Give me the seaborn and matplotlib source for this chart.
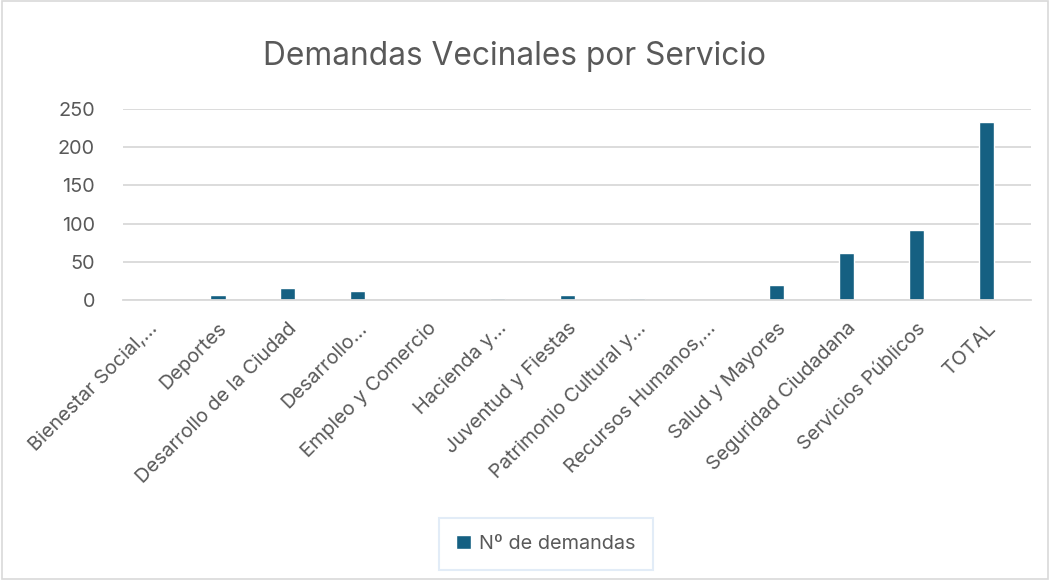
import pandas as pd
import matplotlib.pyplot as plt
import seaborn as sns
from matplotlib.patches import Rectangle

# datos
servicios = ["Bienestar Social,...", "Deportes", "Desarrollo de la Ciudad", "Desarrollo...",
             "Empleo y Comercio", "Hacienda y...", "Juventud y Fiestas", "Patrimonio Cultural y...",
             "Recursos Humanos,...", "Salud y Mayores", "Seguridad Ciudadana",
             "Servicios Públicos", "TOTAL"]
demandas = [0, 6, 16, 11, 0, 3, 6, 3, 0, 20, 62, 92, 233]
serie = "Nº de demandas"

df = pd.DataFrame({"Servicio": servicios, "Demandas": demandas})

sns.set_style("white")
plt.rcParams['font.family'] = ['Inter', 'DejaVu Sans']

gris = "#595959"
azul = "#156082"

fig = plt.figure(figsize=(10.5, 5.8), dpi=100)
ax = fig.add_axes([0.117, 0.483, 0.865, 0.329])

sns.barplot(data=df, x="Servicio", y="Demandas", color=azul, width=0.22,
            label=serie, ax=ax, saturation=1)

ax.set_ylim(0, 250)
ax.set_yticks([0, 50, 100, 150, 200, 250])
ax.set_xlim(-0.36, len(servicios) - 0.36)
ax.yaxis.grid(True, color="#d9d9d9", linewidth=1.3)
ax.set_axisbelow(True)
for s in ["top", "right", "left"]:
    ax.spines[s].set_visible(False)
ax.spines["bottom"].set_color("#d9d9d9")
ax.spines["bottom"].set_linewidth(1.3)
ax.set_xlabel("")
ax.set_ylabel("")
ax.tick_params(axis="y", colors=gris, labelsize=14.3, length=0, pad=20)
ax.tick_params(axis="x", colors=gris, labelsize=14.3, length=0, pad=14)
plt.setp(ax.get_xticklabels(), rotation=45, ha="right", rotation_mode="anchor")

fig.text(0.49, 0.888, "Demandas Vecinales por Servicio", ha="center", va="baseline",
         fontsize=22.8, color=gris)

leg = ax.legend(loc="center", bbox_to_anchor=(0.52, 0.062), bbox_transform=fig.transFigure,
                frameon=True, fontsize=14.3, handlelength=0.75, handleheight=0.75,
                handletextpad=0.4, borderpad=0.85, borderaxespad=0, fancybox=False)
leg.get_frame().set_edgecolor("#dbe8f5")
leg.get_frame().set_linewidth(1.5)
for t in leg.get_texts():
    t.set_color(gris)

fig.patches.append(Rectangle((0.002, 0.002), 0.996, 0.996, transform=fig.transFigure,
                             fill=False, edgecolor="#d9d9d9", linewidth=1.2))

fig.savefig("out.png", dpi=100)
